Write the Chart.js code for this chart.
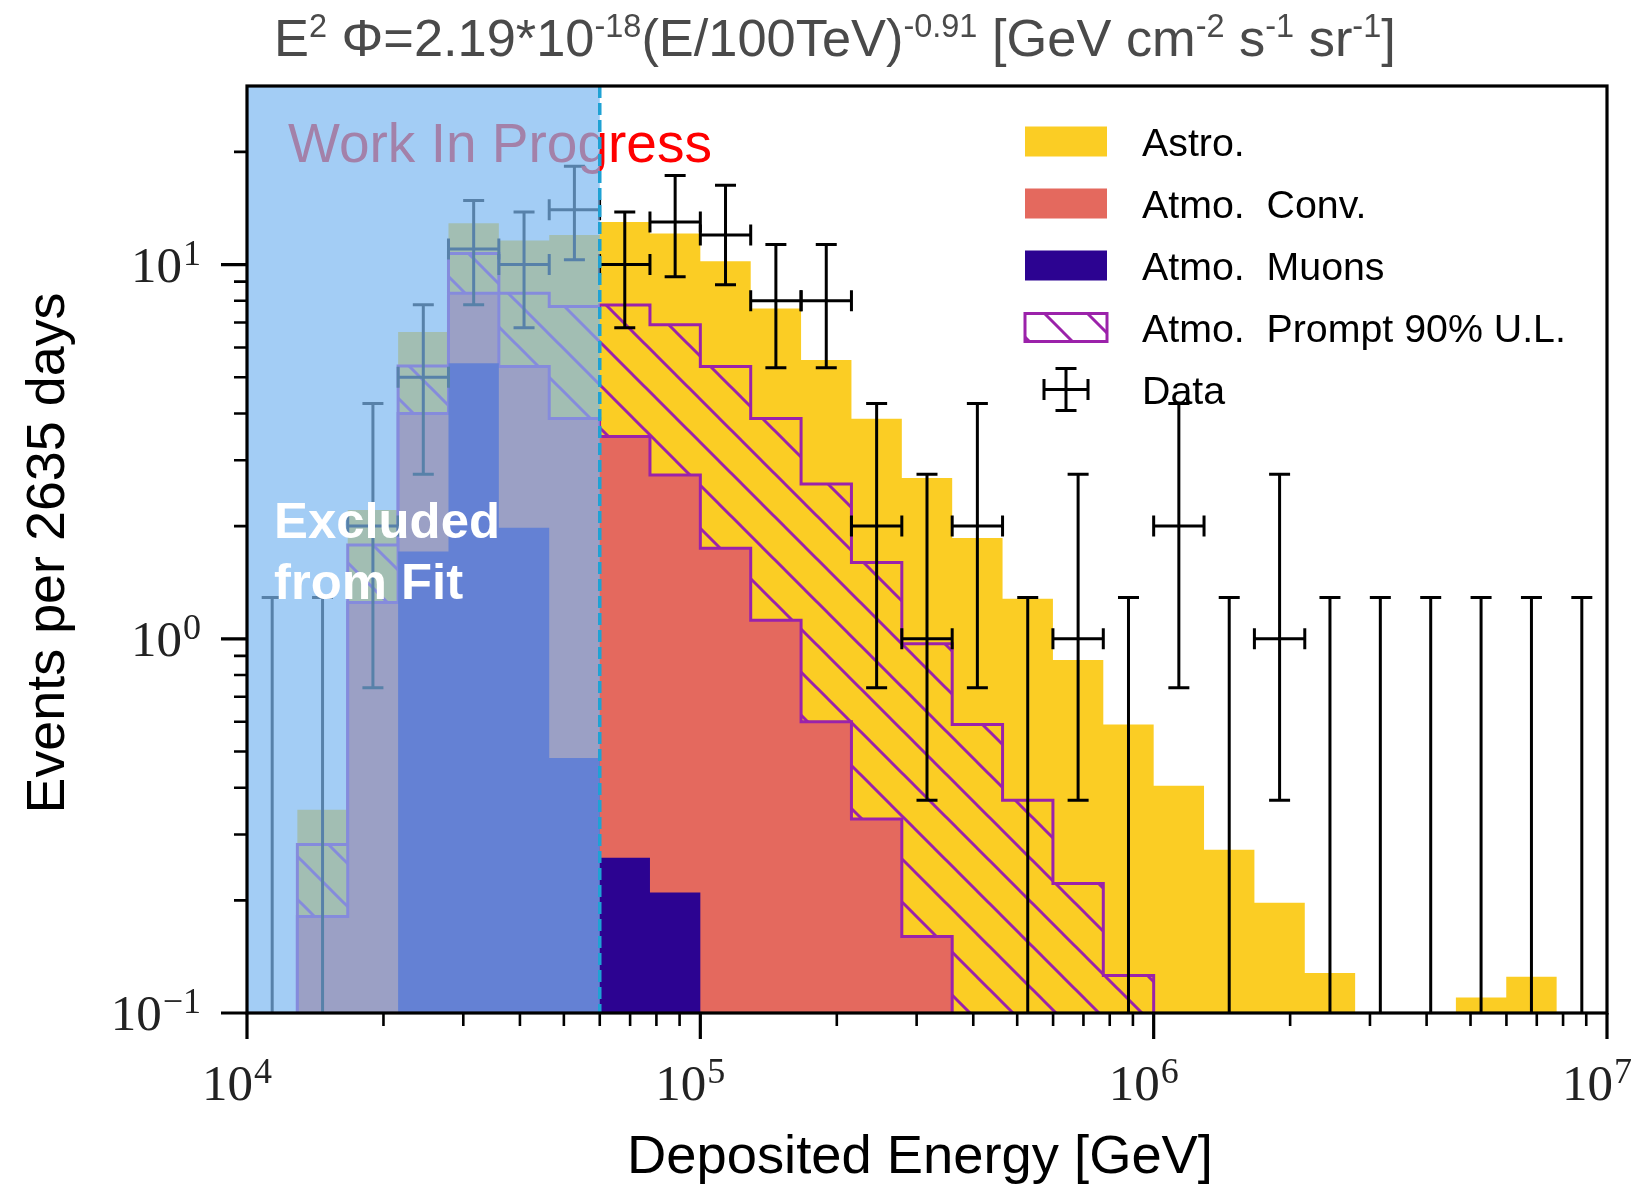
<!DOCTYPE html>
<html>
<head>
<meta charset="utf-8">
<script src="https://cdn.jsdelivr.net/npm/chart.js@4.4.1/dist/chart.umd.min.js"></script>
<style>
  html, body { margin: 0; padding: 0; background: #fff; }
  #wrap { width: 1640px; height: 1186px; position: relative; }
</style>
</head>
<body>
<div id="wrap"><canvas id="chart-spectrum"></canvas></div>
<script>
// bin edges, deposited energy in GeV (9 bins per decade)
var binEdges = [1.0e4, 1.2915e4, 1.6681e4, 2.1544e4, 2.7826e4, 3.5938e4, 4.6416e4, 5.9948e4, 7.7426e4,
    1.0e5, 1.29155e5, 1.6681e5, 2.15443e5, 2.78256e5, 3.59381e5, 4.64159e5, 5.99484e5, 7.74264e5,
    1.0e6, 1.29155e6, 1.6681e6, 2.15443e6, 2.78256e6, 3.59381e6, 4.64159e6, 5.99484e6, 7.74264e6, 1.0e7];

// stacked histogram, height of the top of each layer per bin (events)
var muonTop   = [0, 0, 0, 1.71, 5.45, 1.98, 0.48, 0.26, 0.21, 0, 0, 0, 0, 0, 0, 0, 0, 0, 0, 0, 0, 0, 0, 0, 0, 0, 0];
var convTop   = [0, 0.181, 1.25, 4.0, 8.38, 5.34, 3.88, 3.47, 2.74, 1.745, 1.12, 0.60, 0.33, 0.16, 0, 0, 0, 0, 0, 0, 0, 0, 0, 0, 0, 0, 0];
var promptTop = [0, 0.282, 1.78, 5.36, 10.7, 8.38, 7.72, 7.8, 6.9, 5.34, 3.88, 2.59, 1.60, 0.97, 0.59, 0.37, 0.222, 0.126, 0, 0, 0, 0, 0, 0, 0, 0, 0];
var astroTop  = [0, 0.349, 2.21, 6.6, 12.9, 11.6, 12.0, 13.0, 12.1, 10.2, 7.63, 5.56, 3.87, 2.69, 1.86, 1.28, 0.878, 0.59, 0.405, 0.273, 0.197, 0.128, 0, 0, 0.110, 0.125, 0];

// observed events and their error bar ends
var dataCounts = [0, 0, 2, 5, 11, 10, 14, 10, 13, 12, 8, 8, 2, 1, 2, 0, 1, 0, 2, 0, 1, 0, 0, 0, 0, 0, 0];
var dataLow    = [0, 0, 0.74, 2.75, 7.81, 6.78, 10.30, 6.78, 9.28, 8.83, 5.30, 5.30, 0.74, 0.37, 0.74, 0, 0.37, 0, 0.74, 0, 0.37, 0, 0, 0, 0, 0, 0];
var dataHigh   = [1.29, 1.29, 4.25, 7.81, 14.82, 13.81, 18.32, 13.81, 17.30, 16.29, 11.32, 11.32, 4.25, 2.75, 4.25, 1.29, 2.75, 1.29, 4.25, 1.29, 2.75, 1.29, 1.29, 1.29, 1.29, 1.29, 1.29];

var thresholdEnergy = 6e4;
var xMajorTicks = [1e4, 1e5, 1e6, 1e7];
var xTickExp = ['4', '5', '6', '7'];
var yMajorTicks = [0.1, 1, 10];
var yTickExp = ['\u22121', '0', '1'];

var legendLabels = ['Astro.', 'Atmo.  Conv.', 'Atmo.  Muons', 'Atmo.  Prompt 90% U.L.', 'Data'];
var titleParts = [['E', 0], ['2', 1], [' \u03A6=2.19*10', 0], ['-18', 1], ['(E/100TeV)', 0], ['-0.91', 1],
    [' [GeV cm', 0], ['-2', 1], [' s', 0], ['-1', 1], [' sr', 0], ['-1', 1], [']', 0]];

var ASTRO = '#fbcd24';
var CONV = '#e4695e';
var MUON = '#2c0391';
var PURPLE = '#9b22aa';
var ZERO_FLOOR = 1e-3;   // empty bins are pushed below the axis

function stepData(tops) {
    var pts = tops.map(function (v, i) { return { x: binEdges[i], y: v > 0 ? v : ZERO_FLOOR }; });
    pts.push({ x: binEdges[binEdges.length - 1], y: ZERO_FLOOR });
    return pts;
}

function minorTicks(lo, hi) {
    var list = [];
    for (var d = lo; d < hi; d *= 10) {
        for (var m = 2; m <= 9; m++) {
            if (m * d < hi * 0.999) list.push(m * d);
        }
    }
    return list;
}

function fitSize(ctx, text, family, weight, width) {
    ctx.font = weight + ' 100px ' + family;
    return 100 * width / ctx.measureText(text).width;
}

var canvas = document.getElementById('chart-spectrum');
var ctx0 = canvas.getContext('2d');

var tile = document.createElement('canvas');
tile.width = 43; tile.height = 43;
var tg = tile.getContext('2d');
tg.strokeStyle = PURPLE;
tg.lineWidth = 3;
[-43, 0, 43].forEach(function (off) {
    tg.beginPath();
    tg.moveTo(-43, -43 + off);
    tg.lineTo(86, 86 + off);
    tg.stroke();
});
var hatch = ctx0.createPattern(tile, 'repeat');

function drawPower(ctx, exp, x, baseline, align) {
    ctx.font = '51px "Liberation Serif"';
    var wb = ctx.measureText('10').width;
    ctx.font = '36px "Liberation Serif"';
    var we = ctx.measureText(exp).width;
    var total = wb + 1 + we;
    var x0 = align === 'right' ? x - total : x - total / 2;
    ctx.textAlign = 'left';
    ctx.textBaseline = 'alphabetic';
    ctx.font = '51px "Liberation Serif"';
    ctx.fillText('10', x0, baseline);
    ctx.font = '36px "Liberation Serif"';
    ctx.fillText(exp, x0 + wb + 1, baseline - 17);
}

function errorCross(ctx, xl, xc, xr, y, yl, yh, capL, capH) {
    var c = 10.5;
    ctx.beginPath();
    if (y !== null) {
        ctx.moveTo(xl, y); ctx.lineTo(xr, y);
        ctx.moveTo(xl, y - c); ctx.lineTo(xl, y + c);
        ctx.moveTo(xr, y - c); ctx.lineTo(xr, y + c);
    }
    ctx.moveTo(xc, yl); ctx.lineTo(xc, yh);
    if (capH) { ctx.moveTo(xc - c, yh); ctx.lineTo(xc + c, yh); }
    if (capL) { ctx.moveTo(xc - c, yl); ctx.lineTo(xc + c, yl); }
    ctx.stroke();
}

var decorPlugin = {
    id: 'decor',
    afterDatasetsDraw: function (chart) {
        var ctx = chart.ctx, a = chart.chartArea;
        var xs = chart.scales.x, ys = chart.scales.y;
        ctx.save();
        ctx.beginPath();
        ctx.rect(a.left, a.top, a.right - a.left, a.bottom - a.top);
        ctx.clip();

        // data points
        ctx.strokeStyle = '#000';
        ctx.lineWidth = 3;
        for (var k = 0; k < dataCounts.length; k++) {
            var xl = xs.getPixelForValue(binEdges[k]);
            var xr = xs.getPixelForValue(binEdges[k + 1]);
            var xc = xs.getPixelForValue(Math.sqrt(binEdges[k] * binEdges[k + 1]));
            var yh = ys.getPixelForValue(dataHigh[k]);
            if (dataCounts[k] > 0) {
                errorCross(ctx, xl, xc, xr, ys.getPixelForValue(dataCounts[k]),
                    ys.getPixelForValue(dataLow[k]), yh, true, true);
            } else {
                errorCross(ctx, xl, xc, xr, null, a.bottom + 10, yh, false, true);
            }
        }

        // watermark
        var wipSize = fitSize(ctx, 'Work In Progress', '"Liberation Sans"', 'normal', 424);
        ctx.font = wipSize + 'px "Liberation Sans"';
        ctx.fillStyle = '#ff0000';
        ctx.textAlign = 'left';
        ctx.textBaseline = 'alphabetic';
        ctx.fillText('Work In Progress', 288, 162);

        // excluded region
        var xt = xs.getPixelForValue(thresholdEnergy);
        ctx.fillStyle = 'rgba(124,184,241,0.7)';
        ctx.fillRect(a.left, a.top, xt - a.left, a.bottom - a.top);

        ctx.strokeStyle = '#1fa2d4';
        ctx.lineWidth = 3.5;
        ctx.setLineDash([12, 5]);
        ctx.beginPath();
        ctx.moveTo(xt, a.top);
        ctx.lineTo(xt, a.bottom);
        ctx.stroke();
        ctx.setLineDash([]);

        var exSize = fitSize(ctx, 'Excluded', '"Liberation Sans"', 'bold', 226);
        ctx.font = 'bold ' + exSize + 'px "Liberation Sans"';
        ctx.fillStyle = '#ffffff';
        ctx.fillText('Excluded', 274, 538);
        ctx.fillText('from Fit', 274, 599);
        ctx.restore();
    },
    afterDraw: function (chart) {
        var ctx = chart.ctx, a = chart.chartArea;
        var xs = chart.scales.x, ys = chart.scales.y;
        ctx.save();

        // ticks
        ctx.strokeStyle = '#000';
        ctx.lineWidth = 2.6;
        ctx.beginPath();
        minorTicks(1e4, 1e7).forEach(function (v) {
            var px = xs.getPixelForValue(v);
            ctx.moveTo(px, a.bottom); ctx.lineTo(px, a.bottom + 13);
        });
        minorTicks(0.1, 30).forEach(function (v) {
            var py = ys.getPixelForValue(v);
            ctx.moveTo(a.left, py); ctx.lineTo(a.left - 13, py);
        });
        ctx.stroke();
        ctx.lineWidth = 3.2;
        ctx.beginPath();
        xMajorTicks.forEach(function (v) {
            var px = xs.getPixelForValue(v);
            ctx.moveTo(px, a.bottom); ctx.lineTo(px, a.bottom + 26);
        });
        yMajorTicks.forEach(function (v) {
            var py = ys.getPixelForValue(v);
            ctx.moveTo(a.left, py); ctx.lineTo(a.left - 26, py);
        });
        ctx.stroke();

        // frame
        ctx.lineWidth = 3.2;
        ctx.strokeRect(a.left, a.top, a.right - a.left, a.bottom - a.top);

        // tick labels
        ctx.fillStyle = '#222';
        xMajorTicks.forEach(function (v, i) {
            drawPower(ctx, xTickExp[i], xs.getPixelForValue(v) - 10, 1100, 'center');
        });
        yMajorTicks.forEach(function (v, i) {
            drawPower(ctx, yTickExp[i], 201, ys.getPixelForValue(v) + 17, 'right');
        });

        // axis titles
        ctx.fillStyle = '#000';
        ctx.textAlign = 'center';
        ctx.textBaseline = 'alphabetic';
        var xl = 'Deposited Energy [GeV]';
        ctx.font = fitSize(ctx, xl, '"Liberation Sans"', 'normal', 586) + 'px "Liberation Sans"';
        ctx.fillText(xl, 920, 1173);
        var yl = 'Events per 2635 days';
        ctx.font = fitSize(ctx, yl, '"Liberation Sans"', 'normal', 521) + 'px "Liberation Sans"';
        ctx.save();
        ctx.translate(64, 553);
        ctx.rotate(-Math.PI / 2);
        ctx.fillText(yl, 0, 0);
        ctx.restore();

        // title with superscripts
        ctx.textAlign = 'left';
        var w100 = 0;
        titleParts.forEach(function (p) {
            ctx.font = (p[1] ? 62 : 100) + 'px "Liberation Sans"';
            w100 += ctx.measureText(p[0]).width;
        });
        var ts = 100 * 1122 / w100;
        var tx = 274;
        ctx.fillStyle = '#4a4a4a';
        titleParts.forEach(function (p) {
            var s = p[1] ? ts * 0.62 : ts;
            ctx.font = s + 'px "Liberation Sans"';
            ctx.fillText(p[0], tx, p[1] ? 56 - ts * 0.36 : 56);
            tx += ctx.measureText(p[0]).width;
        });

        // legend
        var rows = [141.5, 203.5, 265.5, 327.5, 389.5];
        var lx = 1025, lw = 82, lh = 30;
        ctx.fillStyle = ASTRO; ctx.fillRect(lx, rows[0] - lh / 2, lw, lh);
        ctx.fillStyle = CONV; ctx.fillRect(lx, rows[1] - lh / 2, lw, lh);
        ctx.fillStyle = MUON; ctx.fillRect(lx, rows[2] - lh / 2, lw, lh);
        ctx.fillStyle = hatch; ctx.fillRect(lx, rows[3] - lh / 2 + 1, lw, lh - 2);
        ctx.strokeStyle = PURPLE; ctx.lineWidth = 3;
        ctx.strokeRect(lx, rows[3] - lh / 2 + 1, lw, lh - 2);
        ctx.strokeStyle = '#000'; ctx.lineWidth = 3;
        errorCross(ctx, 1044, 1066, 1088, rows[4], rows[4] + 21, rows[4] - 21, true, true);

        var ls = fitSize(ctx, legendLabels[3], '"Liberation Sans"', 'normal', 424);
        ctx.font = ls + 'px "Liberation Sans"';
        ctx.fillStyle = '#000';
        legendLabels.forEach(function (t, i) {
            ctx.fillText(t, 1142, rows[i] + ls * 0.36);
        });
        ctx.restore();
    }
};

var chartSpectrum = new Chart(ctx0, {
    type: 'line',
    data: {
        datasets: [{
            label: 'Atmo. Muons',
            data: stepData(muonTop),
            stepped: true,
            fill: 'start',
            backgroundColor: MUON,
            borderColor: 'rgba(0,0,0,0)',
            borderWidth: 1,
            pointRadius: 0,
            order: 1
        }, {
            label: 'Atmo. Conv.',
            data: stepData(convTop),
            stepped: true,
            fill: 'start',
            backgroundColor: CONV,
            borderColor: PURPLE,
            borderWidth: 3,
            pointRadius: 0,
            order: 2
        }, {
            label: 'Atmo. Prompt 90% U.L.',
            data: stepData(promptTop),
            stepped: true,
            fill: 'start',
            backgroundColor: hatch,
            borderColor: PURPLE,
            borderWidth: 3,
            pointRadius: 0,
            order: 3
        }, {
            label: 'Astro.',
            data: stepData(astroTop),
            stepped: true,
            fill: 'start',
            backgroundColor: ASTRO,
            borderColor: 'rgba(0,0,0,0)',
            borderWidth: 1,
            pointRadius: 0,
            order: 4
        }]
    },
    options: {
        responsive: true,
        maintainAspectRatio: false,
        animation: false,
        events: [],
        layout: { padding: { top: 86, right: 33, left: 0, bottom: 0 } },
        scales: {
            x: {
                type: 'logarithmic',
                min: 1e4,
                max: 1e7,
                grid: { display: false },
                border: { display: false },
                ticks: { display: false },
                afterFit: function (s) { s.height = 173; }
            },
            y: {
                type: 'logarithmic',
                min: 0.1,
                max: 30,
                grid: { display: false },
                border: { display: false },
                ticks: { display: false },
                afterFit: function (s) { s.width = 247; }
            }
        },
        plugins: {
            legend: { display: false },
            tooltip: { enabled: false },
            title: { display: false }
        }
    },
    plugins: [decorPlugin]
});
</script>
</body>
</html>
